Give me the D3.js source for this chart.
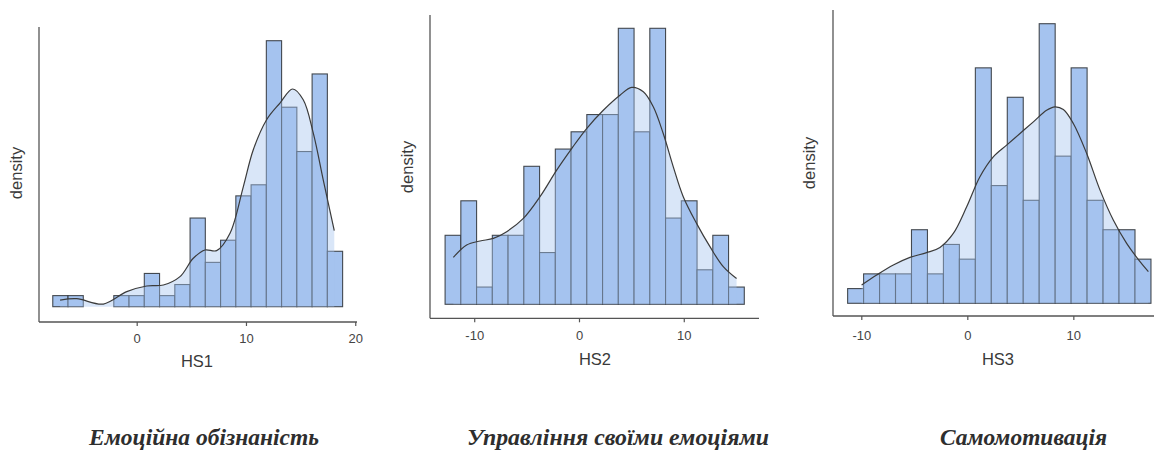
<!DOCTYPE html>
<html><head><meta charset="utf-8">
<script src="https://cdn.jsdelivr.net/npm/d3@7"></script>
<style>
html,body{margin:0;padding:0;background:#fff;}
svg{display:block;}
.ttl{font-family:"Liberation Serif","Times New Roman",serif;font-weight:700;font-style:italic;}
</style></head>
<body>
<svg id="chart" width="1154" height="452"></svg>
<script>
// ---------- data ----------
const variables = ["HS1", "HS2", "HS3"];
const titles = ["Емоційна обізнаність", "Управління своїми емоціями", "Самомотивація"];
const tickValues1 = [0, 10, 20];
const tickValues2 = [-10, 0, 10];
const tickValues3 = [-10, 0, 10];
const binStart = [-7.68, -12.78, -11.29];
const binWidth = [1.396, 1.503, 1.506];
const counts1 = [1,1,0,0,1,1,3,1,2,8,4,6,10,11,24,18,14,21,5];
const counts2 = [4,6,1,4,4,8,3,9,10,11,11,16,10,16,5,6,2,4,1];
const counts3 = [1,2,2,2,5,2,4,3,16,8,14,7,19,10,16,7,5,5,3];
// density curves (scaled to count units)
const kdeX1 = [-7.01,-5.49,-3.05,-0.91,0.91,2.44,3.96,5.18,6.25,7.32,8.54,9.76,10.67,11.89,13.11,14.27,15.24,16.16,17.07,18.08];
const kdeY1 = [0.6,0.72,0.24,1.36,1.87,1.96,2.71,4.37,5.12,5.06,6.63,10.84,14.16,16.87,18.37,19.64,18.67,15.66,11.45,6.87];
const kdeX2 = [-11.99,-10.72,-9.44,-8.17,-6.90,-5.31,-3.72,-2.13,-0.70,0.73,2.32,3.91,5.02,6.14,7.09,8.04,9.0,9.95,11.22,12.50,13.77,15.04];
const kdeY2 = [2.72,3.44,3.67,3.82,4.21,4.98,6.24,7.78,9.03,10.19,11.25,12.12,12.57,12.32,11.45,9.90,7.97,6.24,4.69,3.34,2.18,1.49];
const kdeX3 = [-9.97,-8.55,-6.98,-5.41,-3.84,-2.58,-1.32,-0.06,1.19,2.45,3.71,4.97,6.23,7.48,8.27,9.06,10.0,11.26,12.52,13.77,15.03,16.29,17.08];
const kdeY3 = [1.24,1.92,2.60,3.12,3.44,3.80,4.75,6.56,8.60,9.95,10.75,11.54,12.33,13.12,13.35,13.17,12.22,10.18,7.69,5.66,4.07,2.83,2.15];

// ---------- layout ----------
const panels = [
  {counts: counts1, kx: kdeX1, ky: kdeY1, ticks: tickValues1, xDom: [-8.94, 20.16], axL: 39, axR: 357, axTop: 27, axBot: 322, base: 306.7, yTopVal: 24, yTopPx: 40.7, tickY: 343, labX: 197, labY: 367, denX: 22, denY: 173, titleX: 204, titleW: 230},
  {counts: counts2, kx: kdeX2, ky: kdeY2, ticks: tickValues2, xDom: [-14.22, 17.18], axL: 430, axR: 759, axTop: 15, axBot: 318.3, base: 304.3, yTopVal: 16, yTopPx: 28.3, tickY: 340, labX: 595, labY: 365, denX: 413, denY: 167, titleX: 618, titleW: 302},
  {counts: counts3, kx: kdeX3, ky: kdeY3, ticks: tickValues3, xDom: [-12.67, 17.61], axL: 833, axR: 1154, axTop: 10, axBot: 316, base: 303.3, yTopVal: 19, yTopPx: 23.7, tickY: 340, labX: 998, labY: 365, denX: 815, denY: 163, titleX: 1023.5, titleW: 167}
];

const svg = d3.select("#chart");
const barFill = "#a5c3ef";

panels.forEach((p, i) => {
  const g = svg.append("g");
  const x = d3.scaleLinear().domain(p.xDom).range([p.axL, p.axR]);
  const y = d3.scaleLinear().domain([0, p.yTopVal]).range([p.base, p.yTopPx]);

  const bins = p.counts.map((c, j) => ({x0: binStart[i] + j * binWidth[i], x1: binStart[i] + (j + 1) * binWidth[i], c}));

  g.selectAll("rect.bar").data(bins.filter(d => d.c > 0)).join("rect")
    .attr("class", "bar")
    .attr("x", d => x(d.x0))
    .attr("width", d => x(d.x1) - x(d.x0))
    .attr("y", d => y(d.c))
    .attr("height", d => y(0) - y(d.c))
    .attr("fill", barFill)
    .attr("stroke", "#33373d")
    .attr("stroke-opacity", 0.9)
    .attr("stroke-width", 1.1);

  const pts = p.kx.map((v, j) => [v, p.ky[j]]);
  const area = d3.area().x(d => x(d[0])).y0(y(0)).y1(d => y(d[1])).curve(d3.curveCatmullRom.alpha(0.5));
  g.append("path").datum(pts).attr("d", area)
    .attr("fill", barFill).attr("fill-opacity", 0.42).attr("stroke", "none");
  const line = d3.line().x(d => x(d[0])).y(d => y(d[1])).curve(d3.curveCatmullRom.alpha(0.5));
  g.append("path").datum(pts).attr("d", line)
    .attr("fill", "none").attr("stroke", "#3b3b3b").attr("stroke-width", 1.2);

  // axes
  g.append("line").attr("x1", p.axL).attr("x2", p.axL).attr("y1", p.axTop).attr("y2", p.axBot)
    .attr("stroke", "#555").attr("stroke-width", 1.3);
  const xAxis = d3.axisBottom(x).tickValues(p.ticks).tickSize(4).tickSizeOuter(0).tickFormat(d3.format("d"));
  const ax = g.append("g").attr("transform", `translate(0,${p.axBot})`).call(xAxis);
  ax.select(".domain").attr("stroke", "#555").attr("stroke-width", 1.3).attr("d", `M${p.axL},0H${p.axR}`);
  ax.selectAll(".tick line").attr("stroke", "#555").attr("stroke-width", 1.2);
  ax.selectAll(".tick text").attr("y", null).attr("dy", null)
    .attr("transform", `translate(0,${p.tickY - p.axBot})`)
    .attr("font-family", "'Liberation Sans', Arial, sans-serif").attr("font-size", 13).attr("fill", "#444");
  ax.selectAll(".tick text").text(d => d < 0 ? "-" + Math.abs(d) : d);

  g.append("text").attr("x", p.labX).attr("y", p.labY).attr("text-anchor", "middle")
    .attr("font-family", "'Liberation Sans', Arial, sans-serif").attr("font-size", 16.5).attr("fill", "#3a3a3a")
    .text(variables[i]);
  g.append("text").attr("transform", `translate(${p.denX},${p.denY}) rotate(-90)`).attr("text-anchor", "middle")
    .attr("font-family", "'Liberation Sans', Arial, sans-serif").attr("font-size", 16.5).attr("fill", "#3a3a3a")
    .text("density");

  g.append("text").attr("class", "ttl").attr("x", p.titleX).attr("y", 445).attr("text-anchor", "middle")
    .attr("font-size", 24).attr("fill", "#2e2e2e")
    .attr("textLength", p.titleW).attr("lengthAdjust", "spacingAndGlyphs")
    .text(titles[i]);
});
</script>
</body></html>
